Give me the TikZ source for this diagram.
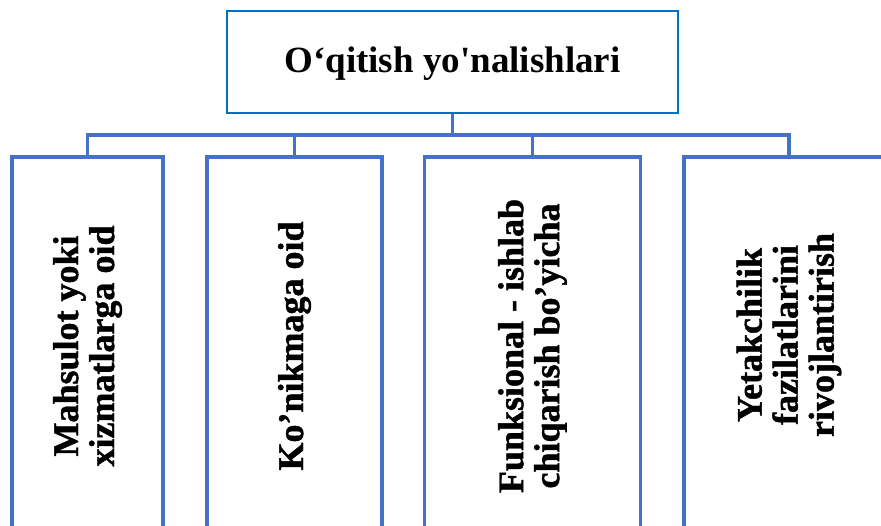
\documentclass[tikz,border=0pt]{standalone}
\usepackage{fontspec}
\newfontfamily\tnr{Liberation Serif}
\newfontfamily\tnrheavy{Liberation Serif}[FakeBold=1.2]
\definecolor{boxblue}{HTML}{4472C4}
\definecolor{topblue}{HTML}{0070C0}
\begin{document}
\begin{tikzpicture}[x=1pt,y=1pt,
  topbox/.style={draw=topblue, line width=2.6pt, rectangle, minimum width=451pt, minimum height=102pt, inner sep=0pt,
    text height=30pt, text depth=8pt,
    font=\tnr\bfseries\fontsize{37}{40}\selectfont},
  childbox/.style={draw=boxblue, line width=3.4pt, rectangle, rotate=90, minimum width=378pt, inner sep=0pt,
    align=center, font=\tnrheavy\bfseries\fontsize{36}{36}\selectfont},
  childtext/.style={rotate=90, inner sep=0pt, align=center, font=\tnrheavy\bfseries\fontsize{36}{36}\selectfont},
  conn/.style={draw=boxblue, line width=3.4pt}]
\useasboundingbox (0,0) rectangle (881,525);
\clip (0,0) rectangle (881,525);
\fill[white] (0,0) rectangle (881,525);
\node[topbox] (top) at (452.5,463) {O‘qitish yo'nalishlari};
\node[childbox, minimum height=151pt] (b1) at (87.5,179) {Mahsulot yoki\\xizmatlarga oid};
\node[childbox, minimum height=175pt] (b2) at (294.5,179) {Ko’nikmaga oid};
\node[childbox, minimum height=216pt] (b3) at (532.5,179) {Funksional - ishlab\\chiqarish bo’yicha};
\node[childbox, minimum height=210pt] (b4) at (789,179) {};
\node[childtext] (b4t) at (789,190) {Yetakchilik\\fazilatlarini\\rivojlantirish};
\coordinate (bus) at (0,390);
\draw[conn] (top.south) -- (top.south |- bus);
\draw[conn, line join=miter] (b1.east) -- (b1.east |- bus) -- (b4.east |- bus) -- (b4.east);
\draw[conn] (b2.east) -- (b2.east |- bus);
\draw[conn] (b3.east) -- (b3.east |- bus);
\end{tikzpicture}
\end{document}
